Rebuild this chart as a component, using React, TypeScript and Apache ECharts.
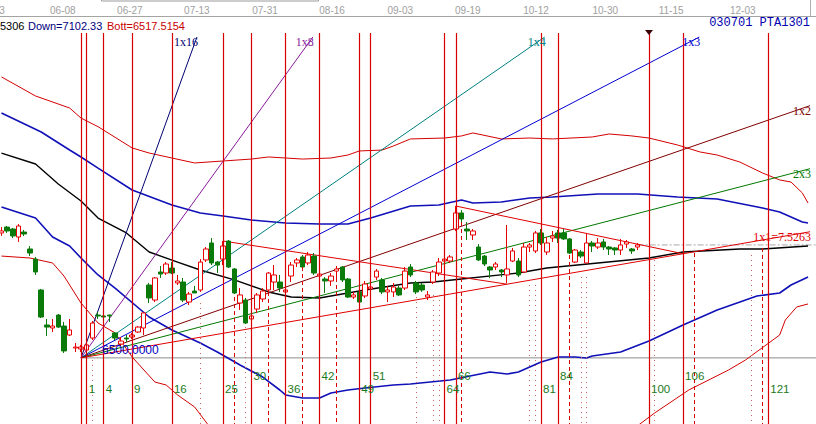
import React, { useEffect, useRef } from "react";
import * as echarts from "echarts";

const W = 816;
const H = 424;
const X_MIN = -14.26;
const X_MAX = 129.4;
const Y_MIN = 5971.5;
const Y_MAX = 9219.3;

// first bar index of the candle list
const firstBar = -14;
// [open, close, low, high]
const ohlc: number[][] = [
  [7435, 7450, 7412, 7480], [7480, 7450, 7435, 7488], [7465, 7412, 7396, 7473], [7404, 7488, 7366, 7503],
  [7442, 7427, 7412, 7458], [7312, 7281, 7258, 7335], [7235, 7136, 7113, 7251], [6998, 6791, 6783, 7006],
  [6730, 6714, 6646, 6776], [6707, 6722, 6676, 6776], [6806, 6714, 6707, 6814], [6722, 6531, 6515, 6753],
  [6653, 6692, 6646, 6776], [6554, 6561, 6523, 6592], [6546, 6561, 6523, 6577], [6538, 6577, 6500, 6653],
  [6630, 6745, 6615, 6760], [6806, 6799, 6776, 6829], [6799, 6791, 6768, 6822], [6806, 6799, 6753, 6810],
  [6669, 6630, 6615, 6676], [6584, 6607, 6569, 6638], [6630, 6623, 6600, 6653], [6638, 6653, 6623, 6669],
  [6676, 6714, 6669, 6722], [6707, 6822, 6653, 6829], [7036, 6937, 6898, 7052], [6921, 7090, 6906, 7097],
  [7136, 7120, 7090, 7182], [7128, 7197, 7113, 7212], [7166, 7128, 7120, 7212], [7052, 7067, 7036, 7113],
  [7059, 6921, 6906, 7090], [6906, 6967, 6883, 6983], [6990, 6975, 6975, 7029], [6998, 7212, 6983, 7235],
  [7228, 7312, 7212, 7327], [7358, 7205, 7189, 7396], [7212, 7189, 7128, 7220], [7235, 7335, 7189, 7373],
  [7373, 7174, 7166, 7381], [7159, 6975, 6967, 7166], [6898, 6960, 6845, 7013], [6921, 6745, 6737, 6937],
  [6776, 6799, 6714, 6860], [6852, 6960, 6822, 6975], [6929, 6990, 6906, 7013], [6998, 7128, 6960, 7136],
  [7059, 7113, 6998, 7189], [7059, 7013, 6983, 7113], [6983, 6998, 6975, 7013], [7105, 7189, 7059, 7212],
  [7205, 7228, 7174, 7243], [7251, 7174, 7166, 7266], [7205, 7266, 7189, 7289], [7258, 7128, 7113, 7281],
  [7105, 7120, 7059, 7143], [7082, 7067, 6975, 7097], [7067, 7105, 7029, 7128], [7143, 7159, 7090, 7182],
  [7174, 7075, 7059, 7182], [7082, 6944, 6937, 7090], [6944, 6960, 6929, 6983], [6983, 6906, 6891, 6998],
  [6952, 7044, 6937, 7067], [7006, 7021, 6975, 7052], [7097, 7143, 7075, 7159], [7075, 6983, 6967, 7090],
  [6983, 6998, 6906, 7029], [6983, 7021, 6944, 7052], [7013, 6960, 6952, 7029], [7013, 7143, 6998, 7174],
  [7174, 7113, 7097, 7197], [7052, 6983, 6967, 7067], [7036, 6998, 6983, 7052], [6944, 6960, 6921, 6990],
  [7059, 7136, 7044, 7151], [7128, 7212, 7105, 7243], [7220, 7235, 7205, 7304], [7220, 7251, 7205, 7266],
  [7465, 7588, 7450, 7641], [7588, 7542, 7519, 7611], [7465, 7450, 7381, 7519], [7419, 7450, 7381, 7465],
  [7327, 7228, 7220, 7350], [7258, 7197, 7182, 7266], [7174, 7151, 7090, 7182], [7174, 7197, 7151, 7212],
  [7151, 7136, 7097, 7159], [7113, 7159, 7052, 7496], [7220, 7297, 7212, 7320], [7220, 7113, 7097, 7243],
  [7136, 7327, 7128, 7358], [7327, 7343, 7289, 7358], [7297, 7435, 7281, 7450], [7435, 7358, 7343, 7465],
  [7289, 7358, 7266, 7404], [7396, 7412, 7366, 7450], [7435, 7396, 7358, 7458], [7435, 7389, 7381, 7465],
  [7389, 7281, 7274, 7396], [7212, 7304, 7205, 7312], [7289, 7258, 7243, 7304], [7205, 7358, 7205, 7435],
  [7358, 7335, 7289, 7373], [7327, 7358, 7312, 7396], [7366, 7327, 7304, 7389], [7327, 7312, 7266, 7335],
  [7320, 7304, 7266, 7327], [7304, 7343, 7266, 7389], [7350, 7366, 7320, 7381], [7312, 7297, 7274, 7320],
  [7327, 7343, 7304, 7358],
];

// band curves: [bar, price]
const upperRed = [[-14, 8630], [-8, 8484], [-2, 8392], [0, 8315], [3, 8249], [9, 8086], [12, 8047], [16, 8009], [20, 7971], [25, 7986], [30, 8001], [33, 8017], [39, 8001], [44, 8009], [47, 8032], [49, 8063], [53, 8070], [55, 8101], [58, 8155], [64, 8162], [67, 8178], [69, 8201], [74, 8155], [79, 8162], [83, 8155], [90, 8170], [93, 8193], [97, 8178], [100, 8162], [105, 8109], [109, 8055], [112, 8032], [116, 7978], [120, 7894], [123, 7841], [125, 7825], [127, 7741], [128, 7664]];
const upperBlue = [[-14, 8354], [-7, 8208], [-2, 8070], [0, 8017], [3, 7932], [9, 7764], [16, 7649], [21, 7588], [25, 7565], [30, 7534], [36, 7511], [42, 7503], [47, 7503], [51, 7549], [58, 7641], [63, 7649], [67, 7687], [69, 7664], [74, 7672], [79, 7703], [83, 7710], [91, 7733], [98, 7733], [105, 7710], [112, 7695], [120, 7626], [123, 7595], [127, 7519], [128, 7511]];
const midBlack = [[-14, 8047], [-8, 7963], [-4, 7810], [0, 7680], [3, 7549], [8, 7435], [12, 7289], [17, 7212], [21, 7151], [27, 7075], [33, 6983], [37, 6944], [42, 6937], [47, 6975], [50, 6998], [58, 7052], [62, 7059], [67, 7082], [77, 7128], [82, 7166], [100, 7243], [106, 7289], [116, 7312], [120, 7312], [128, 7335]];
const lowerBlue = [[-14, 7634], [-8, 7549], [-5, 7404], [-2, 7335], [0, 7243], [3, 7113], [6, 7013], [12, 6791], [16, 6692], [21, 6592], [24, 6523], [28, 6423], [32, 6331], [35, 6232], [36, 6194], [39, 6171], [42, 6171], [44, 6209], [47, 6232], [50, 6247], [55, 6270], [58, 6278], [65, 6308], [72, 6370], [75, 6354], [77, 6370], [81, 6446], [84, 6485], [87, 6485], [89, 6477], [90, 6492], [95, 6523], [100, 6607], [106, 6730], [112, 6845], [119, 6952], [123, 6975], [125, 7036], [128, 7097]];
const lowerRedA = [[-14, 7258], [-9, 7243], [-5, 7205], [-3, 7105], [-2, 7036], [0, 6898], [3, 6745], [6, 6669], [9, 6485], [13, 6293], [15, 6270], [17, 6194], [20, 6102], [22, 5987], [23, 5926]];
const lowerRedB = [[97, 5926], [101, 6056], [107, 6232], [114, 6385], [117, 6462], [123, 6653], [124, 6768], [126, 6868], [128, 6891]];

// Gann fan
const fanOrigin = [0, 6478];
const fanUnit = 7.5263;
const fanRight = 128.35;
const fanNames = ["1x16", "1x8", "1x4", "1x3", "1x2", "2x3", "1x1=7.5263"];
const fanRatios = [16, 8, 4, 3, 2, 1.5, 1];
const fanColors = ["#000070", "#8a1a9a", "#008080", "#0000d0", "#800000", "#007800", "#e00000"];

// triangle lines from swing highs down to the 1x1 line
const triStartBar = [25, 66];
const triStartPrice = [7373, 7641];
const triEndBar = [75, 106];

// time lines
const fibBars = [0, 1, 4, 9, 16, 25, 30, 36, 42, 49, 51, 64, 66, 81, 84, 100, 106, 121];
const markerBar = 100;
const dashBars = [27, 33, 39, 45, 67, 86, 108, 120];
const dashFrom = [6944, 6983, 7174, 7090, 7519, 7266, 7281, 7320];
const dotBars = [2, 21, 29, 59, 62, 63, 79, 80, 88, 89, 101, 118];
const dotFrom = [6462, 6898, 6714, 6944, 6960, 6960, 7036, 7036, 7097, 7097, 7228, 7266];

// header dates (the first one is only partly visible in the source: its last digit)
const dateLabels = ["3", "06-08", "06-27", "07-13", "07-31", "08-16", "09-03", "09-19", "10-12", "10-30", "11-15", "12-03"];
const dateAt = [-13.9, -3.2, 8.6, 20.4, 32.4, 44.2, 56.2, 68.1, 80.1, 92.3, 103.9, 116.5];

const infoCode = "5306";
const infoDown = "Down=7102.33";
const infoBott = "Bott=6517.5154";
const titleRight = "030701 PTA1301";
const originLabel = "6500.0000";

const priceAtPx = (py: number) => Y_MAX - (py / H) * (Y_MAX - Y_MIN);

function lineSeries(data: number[][], color: string, width: number, z = 2) {
  return {
    type: "line",
    data,
    showSymbol: false,
    symbol: "none",
    silent: true,
    z,
    lineStyle: { color, width },
  };
}

function vertSeries(bars: number[], from: number[], color: string, type: any, width: number) {
  return {
    type: "line",
    data: [[bars[0], Y_MIN]],
    symbol: "none",
    showSymbol: false,
    silent: true,
    z: 1,
    lineStyle: { opacity: 0 },
    markLine: {
      silent: true,
      symbol: ["none", "none"],
      animation: false,
      label: { show: false },
      emphasis: { disabled: true },
      lineStyle: { color, width, type },
      data: bars.map((b, k) => [{ coord: [b, from[k]] }, { coord: [b, Y_MIN] }]),
    },
  };
}

export default function App() {
  const ref = useRef<HTMLDivElement>(null);
  useEffect(() => {
    document.body.style.margin = "0";
    const chart = echarts.init(ref.current!, null, { renderer: "svg" });
    const fibTop = priceAtPx(33);
    const fanTop = priceAtPx(37);
    const fan1x1 = (b: number) => fanOrigin[1] + fanUnit * (b - fanOrigin[0]);

    const fanEnds = fanRatios.map((m) => {
      const tTop = (fanTop - fanOrigin[1]) / (m * fanUnit);
      const t = Math.min(tTop, fanRight - fanOrigin[0]);
      return [fanOrigin[0] + t, fanOrigin[1] + m * fanUnit * t];
    });

    const lastClose = ohlc[ohlc.length - 1][1];
    const lastBar = firstBar + ohlc.length - 1;

    const series: any[] = [
      vertSeries(dotBars, dotFrom, "#c86060", [1, 4], 1),
      vertSeries(dashBars, dashFrom, "#d80000", [4, 3], 1),
      vertSeries(fibBars, fibBars.map(() => fibTop), "#d80000", "solid", 1.2),
      lineSeries([fanOrigin, [X_MAX, fanOrigin[1]]], "#8c8c8c", 1, 2),
      {
        type: "line",
        data: [[lastBar, lastClose], [X_MAX, lastClose]],
        symbol: "none",
        silent: true,
        z: 2,
        lineStyle: { color: "#a8a8a8", width: 1, type: [6, 2, 2, 2] },
      },
      lineSeries(upperRed, "#d40000", 1),
      lineSeries(lowerRedA, "#d40000", 1),
      lineSeries(lowerRedB, "#d40000", 1),
      lineSeries(upperBlue, "#1010b8", 1.6),
      lineSeries(lowerBlue, "#1010b8", 1.6),
      lineSeries(midBlack, "#000000", 1.4),
      ...fanEnds.map((e, k) => lineSeries([fanOrigin, e], fanColors[k], 1, 3)),
      ...triStartBar.map((b, k) =>
        lineSeries([[b, triStartPrice[k]], [triEndBar[k], fan1x1(triEndBar[k])]], "#e00000", 1, 3)
      ),
      {
        type: "candlestick",
        z: 4,
        silent: true,
        barWidth: 5,
        encode: { x: 0, y: [1, 2, 3, 4] },
        data: ohlc.map((d, k) => [firstBar + k, d[0], d[1], d[2], d[3]]),
        itemStyle: {
          color: "#ffffff",
          color0: "#0a7a0a",
          borderColor: "#e80000",
          borderColor0: "#0a7a0a",
          borderWidth: 1,
        },
      },
    ];

    chart.setOption({
      animation: false,
      backgroundColor: "#ffffff",
      grid: { left: 0, right: 0, top: 0, bottom: 0, containLabel: false },
      xAxis: { type: "value", min: X_MIN, max: X_MAX, show: false },
      yAxis: { type: "value", min: Y_MIN, max: Y_MAX, show: false },
      series,
    });

    const px = (x: number, y: number) => chart.convertToPixel({ gridIndex: 0 }, [x, y]) as number[];
    const g: any[] = [];
    const sans = "'Liberation Sans', Arial, sans-serif";
    const serif = "'Liberation Serif', 'Times New Roman', serif";
    const mono = "'Liberation Mono', 'Courier New', monospace";

    // header strip
    g.push({ type: "line", silent: true, z: 50, shape: { x1: 0, y1: 16.5, x2: W, y2: 16.5 }, style: { stroke: "#a4a4a4", lineWidth: 1 } });
    g.push({ type: "line", silent: true, z: 50, shape: { x1: 810.5, y1: 0, x2: 810.5, y2: 16 }, style: { stroke: "#b0b0b0", lineWidth: 1 } });
    g.push({ type: "rect", silent: true, z: 50, shape: { x: 101.5, y: -2, width: 217, height: 3 }, style: { fill: "none", stroke: "#9a9a9a", lineWidth: 1 } });
    dateLabels.forEach((t, k) => {
      const p = px(dateAt[k], Y_MIN);
      g.push({ type: "text", silent: true, z: 50, x: p[0], y: 10, style: { text: t, fill: "#a0a0a0", fontSize: 10, fontFamily: sans, align: "center", verticalAlign: "middle" } });
    });

    // info line
    g.push({ type: "text", silent: true, z: 50, x: 0, y: 26, style: { text: infoCode, fill: "#000000", fontSize: 11, fontFamily: sans, align: "left", verticalAlign: "middle" } });
    g.push({ type: "text", silent: true, z: 50, x: 28, y: 26, style: { text: infoDown, fill: "#000080", fontSize: 11, fontFamily: sans, align: "left", verticalAlign: "middle" } });
    g.push({ type: "text", silent: true, z: 51, x: 107, y: 26, style: { text: infoBott, fill: "#c80000", fontSize: 11, fontFamily: sans, align: "left", verticalAlign: "middle", backgroundColor: "#ffffff" } });
    g.push({ type: "text", silent: true, z: 50, x: 810, y: 23, style: { text: titleRight, fill: "#0000b0", fontSize: 12, fontFamily: mono, align: "right", verticalAlign: "middle" } });

    // marker triangle at the top of a time line
    const mk = px(markerBar, fibTop);
    g.push({ type: "polygon", silent: true, z: 50, shape: { points: [[mk[0] - 4, mk[1] - 3], [mk[0] + 4, mk[1] - 3], [mk[0], mk[1] + 2]] }, style: { fill: "#3a0000" } });

    // fan labels
    fanEnds.forEach((e, k) => {
      const p = px(e[0], e[1]);
      g.push({ type: "text", silent: true, z: 50, x: Math.min(p[0] + 1, 811), y: p[1] - 1, style: { text: fanNames[k], fill: fanColors[k], fontSize: 12, fontFamily: serif, align: "right", verticalAlign: "top" } });
    });

    // origin label
    const o = px(fanOrigin[0], fanOrigin[1]);
    g.push({ type: "text", silent: true, z: 50, x: o[0] + 21, y: o[1] - 8, style: { text: originLabel, fill: "#0000c0", fontSize: 12, fontFamily: sans, align: "left", verticalAlign: "middle" } });

    // time-line numbers
    fibBars.forEach((b) => {
      if (b === 0) return;
      const p = px(b, Y_MIN);
      const sq = Number.isInteger(Math.sqrt(b));
      g.push({ type: "text", silent: true, z: 50, x: p[0] + 2, y: sq ? 389 : 376, style: { text: String(b), fill: "#1b7a1b", fontSize: 11.5, fontFamily: sans, align: "left", verticalAlign: "middle" } });
    });

    chart.setOption({ graphic: g });
    return () => chart.dispose();
  }, []);
  return <div ref={ref} style={{ width: W, height: H }} />;
}
